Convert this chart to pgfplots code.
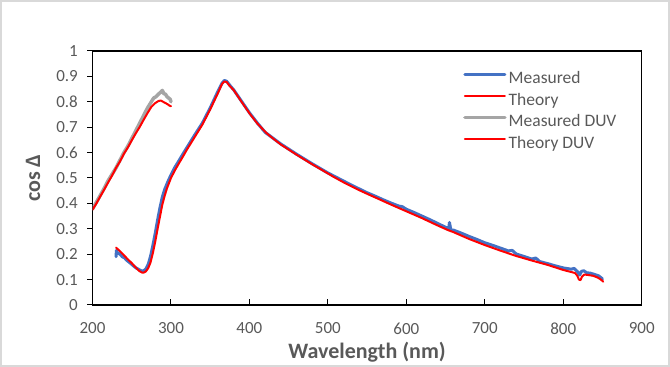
\documentclass[border=0pt]{standalone}
\usepackage{pgfplots}
\pgfplotsset{compat=1.18}
\usepackage{fontspec}
\setmainfont{Carlito}
\definecolor{mblue}{HTML}{4472C4}
\definecolor{mgray}{HTML}{A5A5A5}
\definecolor{tgray}{HTML}{595959}
\definecolor{frame}{HTML}{D9D9D9}
\begin{document}
\begin{tikzpicture}
\useasboundingbox (0pt,0pt) rectangle (670pt,367pt);
\draw[frame, line width=2pt] (1pt,1pt) rectangle (669pt,366pt);
\begin{axis}[
  at={(92.5pt,62pt)}, anchor=south west,
  width=549.2pt, height=254pt, scale only axis,
  xmin=200, xmax=900, ymin=0, ymax=1,
  xtick={200,300,400,500,600,700,800,900},
  xticklabels={200,300,400,500,600,700,800,900},
  ytick={0,0.1,0.2,0.3,0.4,0.5,0.6,0.7,0.8,0.9,1},
  yticklabels={0,0.1,0.2,0.3,0.4,0.5,0.6,0.7,0.8,0.9,1},
  xtick pos=bottom, ytick pos=left,
  tick align=inside, major tick length=5.5pt,
  y tick style={xshift=-5.5pt},
  tick style={black, line width=1pt},
  axis line style={black, line width=1.2pt},
  xticklabel style={anchor=center, yshift=-23.5pt, font=\fontsize{17}{20}\selectfont, text=tgray},
  yticklabel style={anchor=east, inner sep=0pt, xshift=-14.5pt, font=\fontsize{17}{20}\selectfont, text=tgray},
  xlabel={\textbf{Wavelength (nm)}},
  ylabel={\textbf{cos Δ}},
  xlabel style={at={(axis description cs:0.5,-0.185)}, anchor=center, font=\fontsize{22}{26}\selectfont, text=tgray},
  ylabel style={at={(axis description cs:-0.108,0.5)}, anchor=center, font=\fontsize{22}{26}\selectfont, text=tgray},
  legend style={draw=none, fill=none, at={(axis description cs:0.6746,0.919)}, anchor=north west,
    font=\fontsize{17.5}{20}\selectfont, text=tgray, inner sep=0pt, row sep=5.5pt, column sep=2pt,
    nodes={inner sep=0pt, text height=12pt, text depth=4pt}},
  legend cell align=left,
  legend image code/.code={\path (0pt,0pt); \draw[#1] (0pt,5.5pt) -- (40pt,5.5pt);},
  every axis plot/.append style={line join=round, line cap=round},
]
\addplot[mblue, line width=3pt] coordinates {
(230,0.19) (230.5,0.215) (232,0.205) (235,0.2) (238,0.19) (241,0.185) (244,0.175) (247,0.168)
(250,0.16) (253,0.152) (256,0.145) (259,0.14) (262,0.135) (265,0.134) (268,0.142) (271,0.16)
(274,0.192) (277,0.235) (280,0.283) (283,0.335) (286,0.383) (289,0.425) (292,0.455) (296,0.485)
(300,0.512) (305,0.542) (310,0.567) (315,0.593) (320,0.618) (330,0.668) (340,0.716) (350,0.776)
(360,0.842) (365,0.873) (368,0.884) (371,0.881) (375,0.865) (380,0.847) (390,0.802) (400,0.757)
(410,0.717) (420,0.68) (430,0.657) (440,0.634) (450,0.614) (460,0.594) (470,0.575) (480,0.556)
(490,0.538) (500,0.52) (510,0.504) (520,0.488) (530,0.472) (540,0.457) (550,0.442) (560,0.429)
(570,0.415) (580,0.402) (590,0.39) (595,0.387) (600,0.377) (610,0.364) (620,0.35) (630,0.336)
(640,0.321) (650,0.306) (654,0.301) (655,0.325) (656,0.308) (657,0.294) (660,0.295) (670,0.283)
(680,0.27) (690,0.258) (700,0.245) (710,0.235) (720,0.224) (730,0.213) (735,0.215) (740,0.201)
(750,0.191) (760,0.181) (765,0.185) (770,0.171) (780,0.163) (790,0.154) (800,0.146) (810,0.141)
(814,0.144) (818,0.132) (821,0.118) (823,0.132) (826,0.135) (830,0.127) (835,0.125) (840,0.12)
(845,0.115) (850,0.103)
};
\addlegendentry{Measured}
\addplot[red, line width=2pt] coordinates {
(230,0.226) (235,0.212) (240,0.196) (245,0.18) (250,0.165) (255,0.148) (260,0.133) (263,0.128)
(265,0.127) (268,0.132) (271,0.145) (274,0.168) (277,0.205) (280,0.25) (283,0.30) (286,0.348)
(289,0.395) (292,0.43) (295,0.46) (300,0.50) (305,0.53) (310,0.557) (315,0.583) (320,0.61)
(330,0.66) (340,0.71) (350,0.77) (360,0.835) (365,0.87) (368,0.88) (371,0.878) (375,0.862)
(380,0.846) (390,0.80) (400,0.755) (410,0.715) (422,0.676) (430,0.656) (440,0.632) (450,0.612)
(460,0.592) (470,0.573) (480,0.554) (490,0.536) (500,0.518) (507,0.505) (520,0.483) (540,0.452)
(552,0.435) (560,0.424) (580,0.396) (594,0.377) (600,0.369) (620,0.342) (640,0.313) (653,0.295)
(660,0.287) (680,0.26) (700,0.236) (720,0.214) (740,0.193) (760,0.175) (780,0.158) (800,0.138)
(810,0.13) (815,0.126) (818,0.115) (820,0.1) (822,0.098) (824,0.112) (827,0.12) (832,0.118)
(838,0.115) (844,0.108) (848,0.1) (851,0.092)
};
\addlegendentry{Theory}
\addplot[mgray, line width=3.5pt] coordinates {
(200,0.378) (205,0.405) (210,0.432) (215,0.46) (220,0.49) (225,0.515) (230,0.54) (235,0.57)
(240,0.60) (245,0.625) (250,0.655) (255,0.685) (260,0.715) (265,0.745) (270,0.775) (275,0.80)
(278,0.815) (281,0.82) (284,0.83) (287,0.838) (289,0.845) (291,0.832) (293,0.83) (295,0.82)
(297,0.815) (299,0.81) (300,0.80)
};
\addlegendentry{Measured DUV}
\addplot[red, line width=2pt] coordinates {
(200,0.375) (205,0.40) (210,0.428) (215,0.455) (220,0.483) (225,0.51) (230,0.54) (235,0.565)
(240,0.595) (245,0.62) (250,0.648) (255,0.675) (260,0.70) (265,0.728) (270,0.755) (275,0.78)
(280,0.795) (284,0.803) (287,0.805) (290,0.80) (293,0.795) (296,0.79) (298,0.785) (300,0.783)
};
\addlegendentry{Theory DUV}
\end{axis}
\end{tikzpicture}
\end{document}
